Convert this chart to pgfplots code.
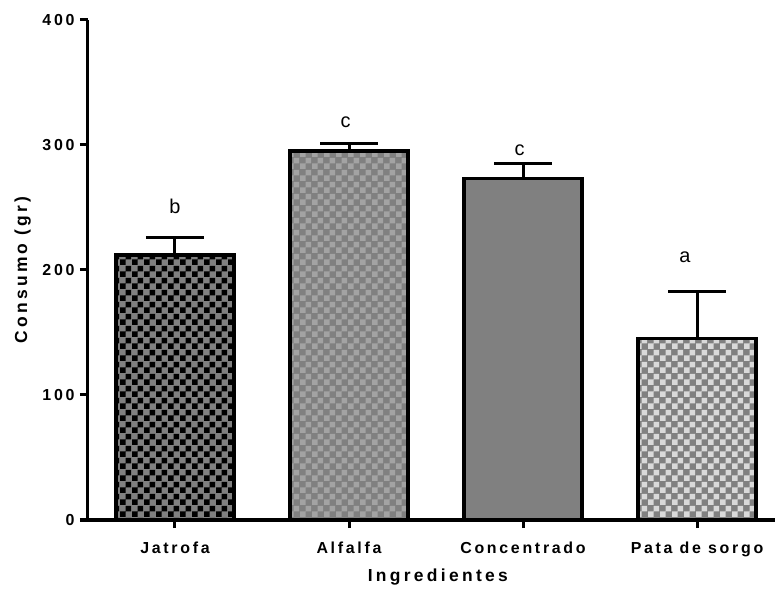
\documentclass[border=0pt]{standalone}
\usepackage{fontspec}
\setmainfont{Liberation Sans}
\newfontfamily\spaced[LetterSpace=19]{Liberation Sans}
\newfontfamily\spacedt[LetterSpace=17]{Liberation Sans}
\usepackage{pgfplots}
\pgfplotsset{compat=1.18}
\usetikzlibrary{patterns}
\pgfdeclarepatternformonly{checker}{\pgfpointorigin}{\pgfpoint{12bp}{12bp}}{\pgfpoint{12bp}{12bp}}{%
 \pgfpathrectangle{\pgfpointorigin}{\pgfpoint{6bp}{6bp}}%
 \pgfpathrectangle{\pgfpoint{6bp}{6bp}}{\pgfpoint{6bp}{6bp}}%
 \pgfusepath{fill}}
\definecolor{g1}{HTML}{808080}
\definecolor{g2}{HTML}{A3A3A3}
\definecolor{g3}{HTML}{D9D9D9}
\begin{document}
\begin{tikzpicture}
\begin{axis}[
 x=174bp, y=1.25bp,
 xmin=-0.5, xmax=3.45, ymin=0, ymax=400,
 axis x line=bottom, axis y line=left,
 axis line style={line width=3bp,-},
 xtick={0,1,2,3}, xticklabels={Jatrofa,Alfalfa,Concentrado,Pata de sorgo},
 ytick={0,100,200,300,400}, yticklabels={0,100,200,300,400},
 tick align=outside, major tick length=8bp,
 tick style={line width=3bp, black},
 ticklabel style={font=\spacedt\bfseries\fontsize{16}{18}\selectfont},
 xticklabel style={yshift=-10bp},
 yticklabel style={xshift=-2bp},
 /pgf/number format/assume math mode=true,
 xlabel={Ingredientes}, ylabel={Consumo (gr)},
 label style={font=\spaced\bfseries\fontsize{17.5}{20}\selectfont},
 xlabel style={at={(axis description cs:0.509,-0.114)}, anchor=center},
 ylabel style={at={(axis description cs:-0.095,0.5)}, anchor=center},
 ybar, bar width=118bp, bar shift=0pt,
 clip=false,
 error bars/y dir=plus, error bars/y explicit,
 error bars/error bar style={line width=3bp, black},
 error bars/error mark options={rotate=90, mark size=29bp, line width=3bp, black},
]
\addplot[draw=black, line width=3.5bp, fill=g1, postaction={pattern=checker, pattern color=black}] coordinates {(0,212) +- (0,14)};
\addplot[draw=black, line width=3.5bp, fill=g1, postaction={pattern=checker, pattern color=g2}] coordinates {(1,295) +- (0,6)};
\addplot[draw=black, line width=3.5bp, fill=g1] coordinates {(2,273) +- (0,12)};
\addplot[draw=black, line width=3.5bp, fill=g1, postaction={pattern=checker, pattern color=g3}] coordinates {(3,145) +- (0,38)};
\node[font=\fontsize{20}{22}\selectfont] at (axis cs:0,251) {b};
\node[font=\fontsize{20}{22}\selectfont] at (axis cs:0.98,318) {c};
\node[font=\fontsize{20}{22}\selectfont] at (axis cs:1.98,296) {c};
\node[font=\fontsize{20}{22}\selectfont] at (axis cs:2.93,210) {a};
\coordinate (O) at (axis cs:-0.5,0);
\end{axis}
\pgfresetboundingbox
\path[use as bounding box] (O) ++(-88bp,-69bp) rectangle ++(776bp,589bp);
\end{tikzpicture}
\end{document}
